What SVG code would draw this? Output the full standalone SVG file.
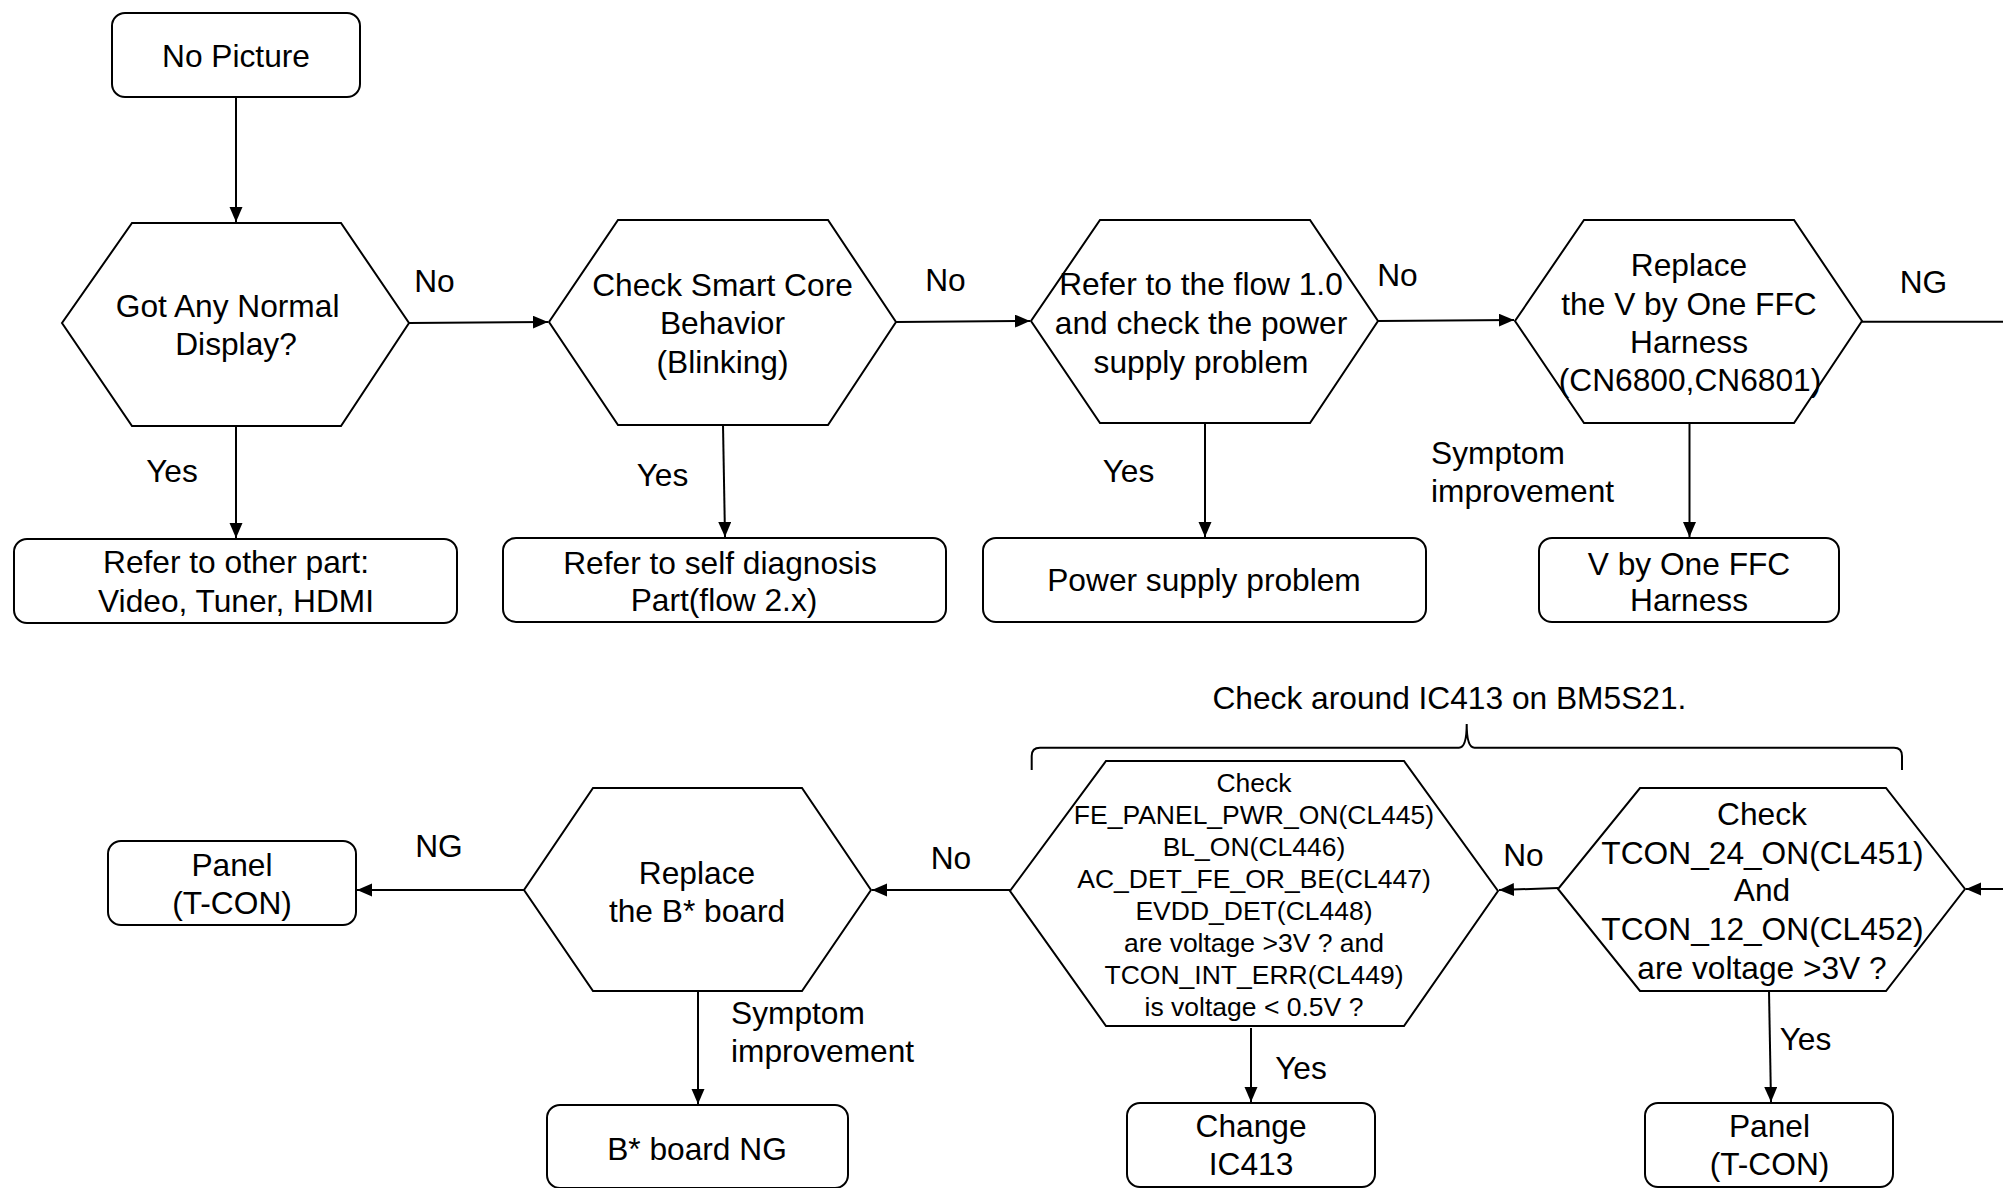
<svg xmlns="http://www.w3.org/2000/svg" width="2003" height="1188" viewBox="0 0 2003 1188">
<defs>
<style>
.box{fill:#fff;stroke:#000;stroke-width:2}
.hex{fill:#fff;stroke:#000;stroke-width:2}
.t{font-family:"Liberation Sans",Arial,sans-serif;font-size:31.7px;fill:#000;text-anchor:middle}
.s{font-family:"Liberation Sans",Arial,sans-serif;font-size:26.5px;fill:#000;text-anchor:middle}
.l{font-family:"Liberation Sans",Arial,sans-serif;font-size:31.7px;fill:#000;text-anchor:middle}
.ls{text-anchor:start}
.c{fill:none;stroke:#000;stroke-width:2}
</style>
<marker id="ah" markerUnits="userSpaceOnUse" markerWidth="16" markerHeight="14" refX="15" refY="6.5" orient="auto">
<path d="M0,0 L15,6.5 L0,13 z" fill="#000"/>
</marker>
</defs>
<rect width="2003" height="1188" fill="#fff"/>

<g id="connectors">
<line class="c" x1="236" y1="97" x2="236" y2="222" marker-end="url(#ah)"/>
<line class="c" x1="409" y1="323" x2="548" y2="322" marker-end="url(#ah)"/>
<line class="c" x1="896" y1="322" x2="1030" y2="321" marker-end="url(#ah)"/>
<line class="c" x1="1378" y1="321" x2="1514" y2="320" marker-end="url(#ah)"/>
<line class="c" x1="1862" y1="321.7" x2="2010" y2="321.7"/>
<line class="c" x1="236" y1="426" x2="236" y2="538" marker-end="url(#ah)"/>
<line class="c" x1="723" y1="425" x2="725" y2="537" marker-end="url(#ah)"/>
<line class="c" x1="1205" y1="423" x2="1205" y2="537" marker-end="url(#ah)"/>
<line class="c" x1="1689.5" y1="423" x2="1689.5" y2="537" marker-end="url(#ah)"/>
<line class="c" x1="2010" y1="889" x2="1966" y2="889" marker-end="url(#ah)"/>
<line class="c" x1="1558" y1="888" x2="1499" y2="890" marker-end="url(#ah)"/>
<line class="c" x1="1010" y1="890" x2="872" y2="890" marker-end="url(#ah)"/>
<line class="c" x1="524" y1="890" x2="357" y2="890" marker-end="url(#ah)"/>
<line class="c" x1="698" y1="991" x2="698" y2="1104" marker-end="url(#ah)"/>
<line class="c" x1="1251" y1="1028" x2="1251" y2="1102" marker-end="url(#ah)"/>
<line class="c" x1="1769" y1="991" x2="1771" y2="1102" marker-end="url(#ah)"/>
<path class="c" d="M1031.7,770 L1031.7,756 Q1031.7,747.7 1040,747.7 L1459,747.7 Q1466.7,747.7 1466.7,724 Q1466.7,747.7 1474.5,747.7 L1894,747.7 Q1902,747.7 1902,756 L1902,770"/>
</g>

<g class="l">
<text x="434.5" y="292">No</text>
<text x="945.5" y="291">No</text>
<text x="1397.5" y="286">No</text>
<text x="1923.5" y="293">NG</text>
<text x="172" y="482">Yes</text>
<text x="662.5" y="486">Yes</text>
<text x="1128.5" y="482">Yes</text>
<text class="ls" x="1431" y="464">Symptom</text>
<text class="ls" x="1431" y="502">improvement</text>
<text x="1449.4" y="709">Check around IC413 on BM5S21.</text>
<text x="439" y="857">NG</text>
<text x="951" y="869">No</text>
<text x="1523.5" y="866">No</text>
<text x="1301" y="1079">Yes</text>
<text x="1805.5" y="1050">Yes</text>
<text class="ls" x="731" y="1024">Symptom</text>
<text class="ls" x="731" y="1062">improvement</text>
</g>

<g id="n-nopicture">
<rect class="box" x="112" y="13" width="248" height="84" rx="13"/>
<text class="t" x="236" y="67">No Picture</text>
</g>

<g id="n-normal">
<polygon class="hex" points="132,223 341,223 409,323 341,426 132,426 62,323"/>
<text class="t" x="227.6" y="317">Got Any Normal</text>
<text class="t" x="236" y="355">Display?</text>
</g>

<g id="n-smartcore">
<polygon class="hex" points="618,220 828,220 896,322 828,425 618,425 549,322"/>
<text class="t" x="722.5" y="296">Check Smart Core</text>
<text class="t" x="722.5" y="334">Behavior</text>
<text class="t" x="722.5" y="372.5">(Blinking)</text>
</g>

<g id="n-flow">
<polygon class="hex" points="1100,220 1310,220 1378,321 1310,423 1100,423 1031,321"/>
<text class="t" x="1201" y="295">Refer to the flow 1.0</text>
<text class="t" x="1201" y="334">and check the power</text>
<text class="t" x="1201" y="372.5">supply problem</text>
</g>

<g id="n-replaceffc">
<polygon class="hex" points="1584,220 1794,220 1862,321 1794,423 1584,423 1515,321"/>
<text class="t" x="1689" y="276">Replace</text>
<text class="t" x="1689" y="315">the V by One FFC</text>
<text class="t" x="1689" y="353">Harness</text>
<text class="t" x="1690" y="391">(CN6800,CN6801)</text>
</g>

<g id="n-otherpart">
<rect class="box" x="14" y="539" width="443" height="84" rx="13"/>
<text class="t" x="236" y="573">Refer to other part:</text>
<text class="t" x="236" y="612">Video, Tuner, HDMI</text>
</g>

<g id="n-selfdiag">
<rect class="box" x="503" y="538" width="443" height="84" rx="13"/>
<text class="t" x="720" y="574">Refer to self diagnosis</text>
<text class="t" x="724" y="611">Part(flow 2.x)</text>
</g>

<g id="n-power">
<rect class="box" x="983" y="538" width="443" height="84" rx="13"/>
<text class="t" x="1204" y="591">Power supply problem</text>
</g>

<g id="n-ffc">
<rect class="box" x="1539" y="538" width="300" height="84" rx="13"/>
<text class="t" x="1689" y="574.5">V by One FFC</text>
<text class="t" x="1689" y="611">Harness</text>
</g>

<g id="n-tcon-check">
<polygon class="hex" points="1640,788 1886,788 1965,889 1886,991 1640,991 1558,889"/>
<text class="t" x="1762" y="825">Check</text>
<text class="t" x="1762.5" y="863.5">TCON_24_ON(CL451)</text>
<text class="t" x="1762" y="901">And</text>
<text class="t" x="1762.5" y="940">TCON_12_ON(CL452)</text>
<text class="t" x="1762" y="978.5">are voltage &gt;3V ?</text>
</g>

<g id="n-fe-check">
<polygon class="hex" points="1106,761 1404,761 1498,891 1404,1026 1106,1026 1010,891"/>
<text class="s" x="1254" y="791.5">Check</text>
<text class="s" x="1254" y="823.5">FE_PANEL_PWR_ON(CL445)</text>
<text class="s" x="1254" y="855.5">BL_ON(CL446)</text>
<text class="s" x="1254" y="887.5">AC_DET_FE_OR_BE(CL447)</text>
<text class="s" x="1254" y="919.5">EVDD_DET(CL448)</text>
<text class="s" x="1254" y="951.5">are voltage &gt;3V ? and</text>
<text class="s" x="1254" y="983.5">TCON_INT_ERR(CL449)</text>
<text class="s" x="1254" y="1015.5">is voltage &lt; 0.5V ?</text>
</g>

<g id="n-replaceb">
<polygon class="hex" points="593,788 802,788 871,890 802,991 593,991 524,890"/>
<text class="t" x="697" y="884">Replace</text>
<text class="t" x="697" y="922">the B* board</text>
</g>

<g id="n-panel-left">
<rect class="box" x="108" y="841" width="248" height="84" rx="13"/>
<text class="t" x="232" y="876">Panel</text>
<text class="t" x="232" y="914">(T-CON)</text>
</g>

<g id="n-bboard">
<rect class="box" x="547" y="1105" width="301" height="83" rx="13"/>
<text class="t" x="697" y="1160">B* board NG</text>
</g>

<g id="n-ic413">
<rect class="box" x="1127" y="1103" width="248" height="84" rx="13"/>
<text class="t" x="1251" y="1137">Change</text>
<text class="t" x="1251" y="1175">IC413</text>
</g>

<g id="n-panel-right">
<rect class="box" x="1645" y="1103" width="248" height="84" rx="13"/>
<text class="t" x="1769.5" y="1137">Panel</text>
<text class="t" x="1769.5" y="1175">(T-CON)</text>
</g>
</svg>
